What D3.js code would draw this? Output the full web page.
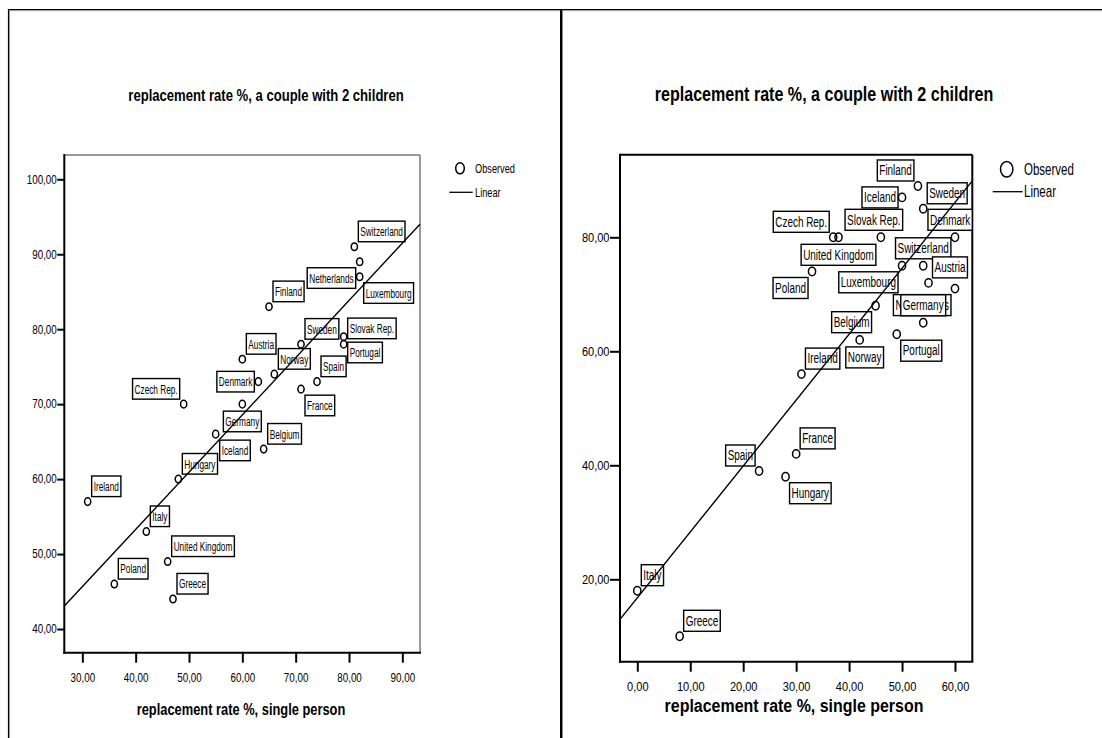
<!DOCTYPE html>
<html>
<head>
<meta charset="utf-8">
<script src="https://cdn.jsdelivr.net/npm/d3@7"></script>
<style>
  body { margin: 0; background: #fff; }
  svg { display: block; }
  text { font-family: "Liberation Sans", Arial, sans-serif; fill: #000; }
</style>
</head>
<body>
<div id="container"></div>
<script>
// data
var countries = ["Switzerland", "Netherlands", "Luxembourg", "Finland", "Slovak Rep.", "Portugal",
  "Sweden", "Austria", "Norway", "Spain", "Denmark", "France", "Czech Rep.", "Germany",
  "Iceland", "Belgium", "Hungary", "Ireland", "Italy", "United Kingdom", "Poland", "Greece"];

// left chart
var singleA = [81, 82, 82, 65, 79, 79, 71, 60, 66, 74, 63, 71, 49, 60, 55, 64, 48, 31, 42, 46, 36, 47];
var coupleA = [91, 89, 87, 83, 79, 78, 78, 76, 74, 73, 73, 72, 70, 70, 66, 64, 60, 57, 53, 49, 46, 44];
var xTicksA = [30, 40, 50, 60, 70, 80, 90];
var yTicksA = [40, 50, 60, 70, 80, 90, 100];

// right chart
var singleB = [54, 60, 50, 53, 46, 49, 54, 55, 42, 23, 60, 30, 37, 54, 50, 45, 28, 31, 0, 38, 33, 8];
var coupleB = [75, 71, 75, 89, 80, 63, 85, 72, 62, 39, 80, 42, 80, 65, 87, 68, 38, 56, 18, 80, 74, 10];
var xTicksB = [0, 10, 20, 30, 40, 50, 60];
var yTicksB = [20, 40, 60, 80];

var titleText = "replacement rate %, a couple with 2 children";
var xTitleText = "replacement rate %, single person";
var legendLabels = ["Observed", "Linear"];

// where each point label sits relative to its point
var placeA = {
  "Switzerland": ["ne"], "Netherlands": ["sw"], "Luxembourg": ["se"], "Finland": ["ne"],
  "Slovak Rep.": ["eu"], "Portugal": ["ed"], "Sweden": ["ne"], "Austria": ["ne"], "Norway": ["ne"],
  "Spain": ["ne"], "Denmark": ["w"], "France": ["se"], "Czech Rep.": ["nw"], "Germany": ["s"],
  "Iceland": ["se"], "Belgium": ["ne"], "Hungary": ["ne"], "Ireland": ["ne"], "Italy": ["ne"],
  "United Kingdom": ["ne"], "Poland": ["ne"], "Greece": ["ne"]
};
var placeB = {
  "Switzerland": ["n"], "Netherlands": ["sw"], "Luxembourg": ["sw"], "Finland": ["nw"],
  "Slovak Rep.": ["n", -7], "Portugal": ["se"], "Sweden": ["ne"], "Austria": ["ne"], "Norway": ["s", 5],
  "Spain": ["nw"], "Denmark": ["n"], "France": ["ne"], "Czech Rep.": ["nw"], "Germany": ["n"],
  "Iceland": ["w"], "Belgium": ["sw"], "Hungary": ["se"], "Ireland": ["ne"], "Italy": ["ne"],
  "United Kingdom": ["s"], "Poland": ["sw"], "Greece": ["ne"]
};

var W = 1102, H = 738;

var svg = d3.select("#container")
  .append("svg")
    .attr("width", W)
    .attr("height", H);

// page frame (table borders)
var frame = svg.append("g");
frame.append("line").attr("x1", 8).attr("x2", W).attr("y1", 9.5).attr("y2", 9.5).attr("stroke", "#000").attr("stroke-width", 1.2);
frame.append("line").attr("x1", 9).attr("x2", W).attr("y1", 10.6).attr("y2", 10.6).attr("stroke", "#999").attr("stroke-width", 1);
frame.append("line").attr("x1", 8.5).attr("x2", 8.5).attr("y1", 9).attr("y2", H).attr("stroke", "#000").attr("stroke-width", 1.2);
frame.append("line").attr("x1", 9.6).attr("x2", 9.6).attr("y1", 10).attr("y2", H).attr("stroke", "#999").attr("stroke-width", 1);
frame.append("line").attr("x1", 561).attr("x2", 561).attr("y1", 9).attr("y2", H).attr("stroke", "#000").attr("stroke-width", 2);
frame.append("line").attr("x1", 562.5).attr("x2", 562.5).attr("y1", 10).attr("y2", H).attr("stroke", "#888").attr("stroke-width", 1);

function fmt(d) { return d.toFixed(2).replace(".", ","); }

// text squeezed horizontally like the stretched original image
function sText(g, x, y, str, size, sx, anchor, weight) {
  return g.append("text")
    .attr("transform", "translate(" + x + "," + y + ") scale(" + sx + ",1)")
    .attr("text-anchor", anchor || "start")
    .attr("font-size", size)
    .attr("font-weight", weight || "normal")
    .text(str);
}

function boxPos(px, py, w, h, place) {
  var code = place[0], nudge = place[1] || 0, pos;
  if (code == "ne") pos = [px + 4, py - 5 - h];
  else if (code == "nw") pos = [px - 4 - w, py - 5 - h];
  else if (code == "se") pos = [px + 4, py + 6];
  else if (code == "sw") pos = [px - 4 - w, py + 6];
  else if (code == "w") pos = [px - 4 - w, py - h / 2];
  else if (code == "n") pos = [px - w / 2, py - 7 - h];
  else if (code == "s") pos = [px - w / 2, py + 7];
  else if (code == "eu") pos = [px + 4, py + 2 - h];
  else if (code == "ed") pos = [px + 4, py - 2];
  pos[0] += nudge;
  return pos;
}

function scatterPanel(cfg) {
  var g = svg.append("g");

  var x = d3.scaleLinear().domain(cfg.xDomain).range([cfg.left, cfg.right]);
  var y = d3.scaleLinear().domain(cfg.yDomain).range([cfg.bottom, cfg.top]);

  // title
  sText(g, cfg.titleX, cfg.titleY, titleText, cfg.titleSize, cfg.titleSx, "middle", "bold");
  sText(g, cfg.xTitleX, cfg.xTitleY, xTitleText, cfg.xTitleSize, cfg.xTitleSx, "middle", "bold");

  // axes
  var yAxis = g.append("g")
    .attr("transform", "translate(" + cfg.left + ",0)")
    .call(d3.axisLeft(y).tickValues(cfg.yTicks).tickFormat(fmt).tickSize(cfg.yTickLen).tickSizeOuter(0));
  var xAxis = g.append("g")
    .attr("transform", "translate(0," + cfg.bottom + ")")
    .call(d3.axisBottom(x).tickValues(cfg.xTicks).tickFormat(fmt).tickSize(cfg.xTickLen).tickSizeOuter(0));
  [yAxis, xAxis].forEach(function (a) {
    a.select(".domain").remove();
    a.selectAll(".tick line").attr("stroke", "#000").attr("stroke-width", 2);
    a.selectAll(".tick text")
      .attr("font-family", "Liberation Sans, Arial, sans-serif")
      .attr("font-size", cfg.tickSize)
      .attr("fill", "#000");
  });
  yAxis.selectAll(".tick text")
    .attr("transform", "scale(" + cfg.tickSx + ",1)")
    .attr("x", -(cfg.yTickLen + 0.5) / cfg.tickSx);
  xAxis.selectAll(".tick text")
    .attr("transform", "scale(" + cfg.tickSx + ",1)")
    .attr("dy", 0)
    .attr("y", cfg.xLabelY);

  // plot frame
  g.append("line").attr("x1", cfg.left).attr("x2", cfg.right).attr("y1", cfg.top).attr("y2", cfg.top)
    .attr("stroke", cfg.farColor).attr("stroke-width", cfg.farWidth);
  g.append("line").attr("x1", cfg.right).attr("x2", cfg.right).attr("y1", cfg.top).attr("y2", cfg.bottom)
    .attr("stroke", cfg.farColor).attr("stroke-width", cfg.farWidth);
  g.append("line").attr("x1", cfg.left).attr("x2", cfg.left).attr("y1", cfg.top - 1).attr("y2", cfg.bottom + 1)
    .attr("stroke", "#000").attr("stroke-width", 2);
  g.append("line").attr("x1", cfg.left - 1).attr("x2", cfg.right + 1).attr("y1", cfg.bottom).attr("y2", cfg.bottom)
    .attr("stroke", "#000").attr("stroke-width", 2);

  var data = countries.map(function (c, i) {
    return { name: c, sx: cfg.xs[i], sy: cfg.ys[i] };
  });

  // point labels
  var labels = g.append("g");
  data.forEach(function (d) {
    var px = x(d.sx), py = y(d.sy);
    var lg = labels.append("g");
    var rect = lg.append("rect");
    var t = lg.append("text")
      .attr("font-size", cfg.labelSize)
      .text(d.name);
    var w = t.node().getComputedTextLength() * cfg.labelSx + 2 * cfg.labelPad;
    var h = cfg.labelH;
    var pos = boxPos(px, py, w, h, cfg.place[d.name]);
    if (pos[0] + w > cfg.right) pos[0] = cfg.right - w;
    rect.attr("x", pos[0]).attr("y", pos[1]).attr("width", w).attr("height", h)
      .attr("fill", "#fff").attr("stroke", "#000").attr("stroke-width", 1.4);
    t.attr("transform", "translate(" + (pos[0] + cfg.labelPad) + "," + (pos[1] + cfg.labelBase) + ") scale(" + cfg.labelSx + ",1)");
  });

  // observed points
  g.append("g").selectAll("ellipse")
    .data(data)
    .enter()
    .append("ellipse")
    .attr("cx", function (d) { return x(d.sx); })
    .attr("cy", function (d) { return y(d.sy); })
    .attr("rx", cfg.rx)
    .attr("ry", cfg.ry)
    .attr("fill", "none")
    .attr("stroke", "#000")
    .attr("stroke-width", 1.5);

  // linear fit
  var mx = d3.mean(cfg.xs), my = d3.mean(cfg.ys);
  var sxy = d3.sum(cfg.xs, function (v, i) { return (v - mx) * (cfg.ys[i] - my); });
  var sxx = d3.sum(cfg.xs, function (v) { return (v - mx) * (v - mx); });
  var b = sxy / sxx, a = my - b * mx;
  var clipId = "clip" + cfg.id;
  g.append("clipPath").attr("id", clipId)
    .append("rect").attr("x", cfg.left).attr("y", cfg.top)
    .attr("width", cfg.right - cfg.left).attr("height", cfg.bottom - cfg.top);
  g.append("line")
    .attr("clip-path", "url(#" + clipId + ")")
    .attr("x1", x(cfg.xDomain[0])).attr("y1", y(a + b * cfg.xDomain[0]))
    .attr("x2", x(cfg.xDomain[1])).attr("y2", y(a + b * cfg.xDomain[1]))
    .attr("stroke", "#000").attr("stroke-width", 1.4);

  // legend
  var lgd = g.append("g");
  lgd.append("ellipse").attr("cx", cfg.legX).attr("cy", cfg.legY)
    .attr("rx", cfg.legRx).attr("ry", cfg.legRy)
    .attr("fill", "none").attr("stroke", "#000").attr("stroke-width", 1.5);
  sText(lgd, cfg.legTextX, cfg.legY + cfg.legSize * 0.36, legendLabels[0], cfg.legSize, cfg.legSx);
  lgd.append("line").attr("x1", cfg.legLineX1).attr("x2", cfg.legLineX2)
    .attr("y1", cfg.legY2).attr("y2", cfg.legY2)
    .attr("stroke", "#000").attr("stroke-width", 1.3);
  sText(lgd, cfg.legTextX, cfg.legY2 + cfg.legSize * 0.36, legendLabels[1], cfg.legSize, cfg.legSx);
}

scatterPanel({
  id: "A", xs: singleA, ys: coupleA, xTicks: xTicksA, yTicks: yTicksA, place: placeA,
  left: 64.3, right: 420, top: 155, bottom: 652.7,
  xDomain: [26.62, 93.31], yDomain: [36.84, 103.24],
  farColor: "#777", farWidth: 1.5,
  yTickLen: 7, xTickLen: 10, tickSize: 12, tickSx: 0.82, xLabelY: 29.6,
  titleX: 266, titleY: 101, titleSize: 17, titleSx: 0.77,
  xTitleX: 241, xTitleY: 715, xTitleSize: 17, xTitleSx: 0.757,
  labelSize: 12.5, labelSx: 0.66, labelPad: 2, labelH: 20.6, labelBase: 15,
  rx: 3.1, ry: 3.8,
  legX: 460, legY: 168.3, legRx: 4.3, legRy: 5.5, legTextX: 475, legSize: 13, legSx: 0.71,
  legLineX1: 449.3, legLineX2: 472.7, legY2: 192.3
});

scatterPanel({
  id: "B", xs: singleB, ys: coupleB, xTicks: xTicksB, yTicks: yTicksB, place: placeB,
  left: 620, right: 972.3, top: 154.7, bottom: 661.7,
  xDomain: [-3.267, 63.27], yDomain: [5.544, 94.49],
  farColor: "#000", farWidth: 2,
  yTickLen: 10, xTickLen: 10, tickSize: 13, tickSx: 0.85, xLabelY: 29.3,
  titleX: 824, titleY: 101, titleSize: 19.5, titleSx: 0.825,
  xTitleX: 794, xTitleY: 712, xTitleSize: 19, xTitleSx: 0.84,
  labelSize: 14, labelSx: 0.71, labelPad: 2, labelH: 21, labelBase: 15.3,
  rx: 3.6, ry: 4.2,
  legX: 1006.7, legY: 169.3, legRx: 6.2, legRy: 7.8, legTextX: 1024, legSize: 16, legSx: 0.72,
  legLineX1: 992.7, legLineX2: 1022.7, legY2: 191.7
});
</script>
</body>
</html>
